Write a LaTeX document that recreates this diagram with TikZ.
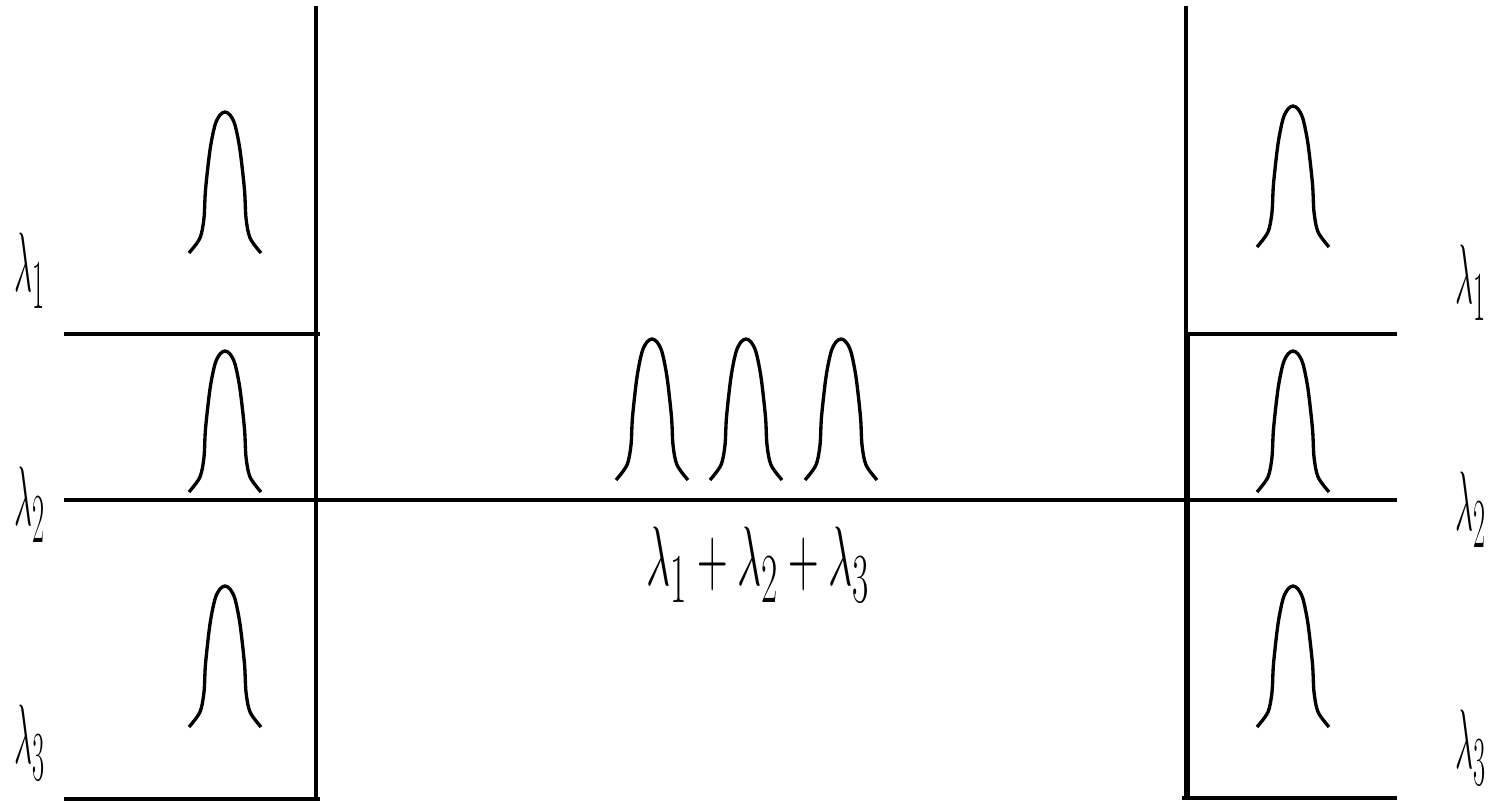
\documentclass[tikz,border=0pt]{standalone}
\usepackage{amsmath}
\usepackage{tikz}
\usetikzlibrary{positioning}

\newcommand{\wl}[1]{\scalebox{0.72}[1.93]{$\lambda_{#1}$}}

\tikzset{
  fibre/.style={line width=2.6pt},
  port/.style={line width=2.1pt},
  lamlabel/.style={inner sep=0pt,font=\Huge},
  pics/pulse/.style={code={
    \draw[line width=1.9pt,line join=round] plot[smooth,tension=0.5] coordinates
      {(-36,0) (-25,-15) (-21,-35) (-19.5,-63) (-15,-103) (-10,-128) (-5,-138) (0,-141)
       (5,-138) (10,-128) (15,-103) (19.5,-63) (21,-35) (25,-15) (36,0)};
  }}
}

\begin{document}
\begin{tikzpicture}[x=0.02cm,y=-0.02cm]
    \useasboundingbox (0,0) rectangle (1505,803);
    % multiplexer
    \draw[port] (316,6) -- (316,799);
    \draw[fibre] (64,334) -- (320,334);
    \draw[fibre] (64,799) -- (320,799);
    % common fibre
    \draw[fibre] (64,500) -- (1397,500);
    % demultiplexer
    \draw[port] (1186,6) -- (1186,334);
    \draw[port,line width=3pt] (1187,334) -- (1187,799);
    \draw[fibre] (1187,334) -- (1397,334);
    \draw[fibre] (1182,798) -- (1397,798);
    \foreach \px/\py in {225/253,225/492,225/727,652/480,746/480,841/480,1293/492,1293/727}
      \pic at (\px,\py) {pulse};
    \pic[line width=2.5pt] at (1293,247) {pulse};
    \node[lamlabel,anchor=north west] (inA) at (14,233) {\wl{1}};
    \node[lamlabel,anchor=north west] (inB) at (14,467) {\wl{2}};
    \node[lamlabel,anchor=north west] (inC) at (14,705) {\wl{3}};
    \node[lamlabel,anchor=north west] (outA) at (1455,245) {\wl{1}};
    \node[lamlabel,anchor=north west] (outB) at (1455,472) {\wl{2}};
    \node[lamlabel,anchor=north west] (outC) at (1455,710) {\wl{3}};
    \node[lamlabel,anchor=north] (sum) at (758,527) {\scalebox{0.97}[1.93]{$\lambda_1+\lambda_2+\lambda_3$}};
  \end{tikzpicture}
\end{document}
